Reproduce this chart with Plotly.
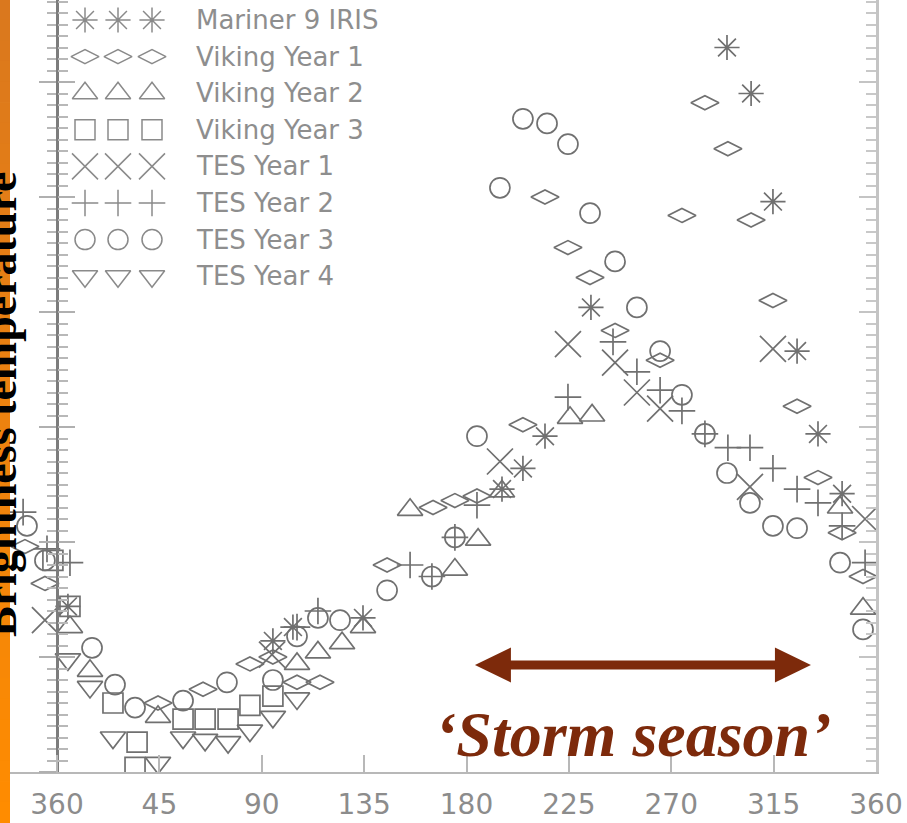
import plotly.graph_objects as go

# ---------------------------------------------------------------------------
# Seasonal brightness temperatures: solar longitude Ls (deg) and T (K)
# ---------------------------------------------------------------------------
mariner9_ls = [4.8, 94.9, 103.7, 134.5, 195.6, 204.8, 214.5, 234.7, 294.5, 305.1, 314.7, 325.3, 334.5, 345.1]
mariner9_t = [197.2, 195.7, 196.3, 196.7, 202.3, 203.2, 204.6, 210.2, 221.5, 219.5, 214.8, 208.3, 204.7, 202.1]

viking1_ls = [-14.1, -5.3, 44.4, 64.2, 84.8, 94.9, 105.5, 115.6, 145.1, 165.3, 174.9, 184.6, 204.8, 214.5,
              224.6, 234.3, 245.3, 265.1, 274.7, 284.8, 294.9, 305.1, 314.7, 325.3, 334.5, 345.1, 354.3]
viking1_t = [199.8, 198.2, 193.0, 193.6, 194.7, 195.0, 193.9, 193.9, 199.0, 201.5, 201.8, 202.0, 205.1, 215.0,
             212.8, 211.5, 209.2, 207.9, 214.2, 219.1, 217.1, 214.0, 210.5, 205.9, 202.8, 200.4, 198.5]

viking2_ls = [5.7, 14.5, 44.4, 105.5, 114.7, 125.3, 134.5, 155.2, 174.9, 185.1, 195.6, 225.5, 235.2, 344.2, 354.3]
viking2_t = [196.3, 194.4, 192.4, 194.7, 195.2, 195.6, 196.3, 201.4, 198.8, 200.1, 202.2, 205.4, 205.5, 201.5, 197.1]

viking3_ls = [-1.8, 5.7, 24.6, 35.2, 34.3, 55.4, 65.1, 75.2, 84.8, 94.9]
viking3_t = [199.2, 197.2, 193.0, 191.3, 190.2, 192.3, 192.3, 192.3, 192.9, 193.3]

tes1_ls = [-5.3, 94.5, 194.7, 224.6, 245.3, 254.9, 265.1, 304.6, 314.7, 355.2]
tes1_t = [196.6, 195.1, 203.5, 208.6, 207.8, 206.5, 205.8, 202.4, 208.4, 201.0]

tes2_ls = [-14.9, -4.4, 5.7, 105.5, 114.7, 155.2, 164.8, 174.9, 184.6, 224.6, 244.4, 254.9, 265.1, 274.7,
           284.8, 294.9, 304.6, 314.7, 325.3, 334.5, 345.1, 355.2]
tes2_t = [201.3, 199.7, 199.1, 196.3, 197.0, 199.0, 198.5, 200.2, 201.6, 206.3, 208.7, 207.4, 206.6, 205.7,
          204.7, 204.1, 204.1, 203.2, 202.3, 201.7, 200.7, 199.1]

tes3_ls = [-13.2, -5.3, 15.4, 25.5, 34.3, 55.4, 74.7, 94.9, 105.5, 114.7, 124.4, 145.1, 164.8, 174.9, 184.6,
           194.7, 204.8, 215.4, 224.6, 234.3, 245.3, 254.9, 265.1, 274.7, 284.8, 294.5, 304.6, 314.7, 325.3,
           344.2, 354.3]
tes3_t = [200.7, 199.2, 195.4, 193.8, 192.8, 193.1, 193.9, 194.0, 195.9, 196.7, 196.6, 197.9, 198.5, 200.2, 204.6,
          215.4, 218.4, 218.2, 217.3, 214.3, 212.2, 210.2, 208.3, 206.4, 204.7, 203.0, 201.7, 200.7, 200.6,
          199.1, 196.2]

tes4_ls = [4.8, 14.5, 24.6, 44.4, 55.4, 65.1, 75.2, 84.8, 94.9, 105.5]
tes4_t = [194.9, 193.7, 191.5, 190.4, 191.5, 191.4, 191.3, 191.8, 192.4, 193.2]

x_tickvals = [0, 45, 90, 135, 180, 225, 270, 315, 360]
x_ticktext = ["360", "45", "90", "135", "180", "225", "270", "315", "360"]

storm_season = (183.7, 331.4)   # Ls span of the dust-storm season arrow
storm_label_ls = 253.6          # Ls at the centre of the storm-season label

# name, Ls, T, marker symbol, marker size
series = [
    ("Mariner 9 IRIS", mariner9_ls, mariner9_t, "asterisk-open", 21),
    ("Viking Year 1", viking1_ls, viking1_t, "diamond-wide-open", 20),
    ("Viking Year 2", viking2_ls, viking2_t, "triangle-up-open", 22),
    ("Viking Year 3", viking3_ls, viking3_t, "square-open", 20),
    ("TES Year 1", tes1_ls, tes1_t, "x-thin-open", 26),
    ("TES Year 2", tes2_ls, tes2_t, "cross-thin-open", 19),
    ("TES Year 3", tes3_ls, tes3_t, "circle-open", 20),
    ("TES Year 4", tes4_ls, tes4_t, "triangle-down-open", 22),
]

# ---------------------------------------------------------------------------
# Page geometry (pixels)
# ---------------------------------------------------------------------------
W, H = 907, 823
FRAME_L, FRAME_R, FRAME_B = 10, 876, 772   # plotting frame
ORIGIN_PX = 57                             # where Ls = 0 sits
PX_PER_DEG = (FRAME_R - ORIGIN_PX) / 360.0
LS_MIN = -(ORIGIN_PX - FRAME_L) / PX_PER_DEG
T_MIN, PX_PER_K = 190.0, 23.0
T_MAX = T_MIN + FRAME_B / PX_PER_K
ORIGIN_FRAC = (ORIGIN_PX - FRAME_L) / (FRAME_R - FRAME_L)

MARK_COLOR = "#707070"
STORM_COLOR = "#7d2a0b"
AXIS_FONT = "DejaVu Sans"

fig = go.Figure()

for name, ls, t, sym, size in series:
    fig.add_trace(go.Scatter(
        x=ls, y=t, mode="markers", name=name,
        marker=dict(symbol=sym, size=size, color=MARK_COLOR,
                    line=dict(color=MARK_COLOR, width=1.7)),
        showlegend=False, hoverinfo="skip",
    ))

# Key in the upper left: three symbols per data set followed by its name
KEY_TOP, KEY_STEP = 20.0, 36.6
KEY_SYMBOL_X = [85, 118, 152]
KEY_TEXT_X = 194
for i, (name, _, _, sym, size) in enumerate(series):
    row_y = KEY_TOP + KEY_STEP * i
    fig.add_trace(go.Scatter(
        x=KEY_SYMBOL_X, y=[row_y] * len(KEY_SYMBOL_X), mode="markers",
        xaxis="x2", yaxis="y4",
        marker=dict(symbol=sym, size=size, color="#8a8a8a",
                    line=dict(color="#8a8a8a", width=1.5)),
        showlegend=False, hoverinfo="skip", cliponaxis=False,
    ))
    fig.add_annotation(
        x=KEY_TEXT_X, y=row_y, xref="x2", yref="y4", text=name,
        showarrow=False, xanchor="left", yanchor="middle",
        font=dict(family=AXIS_FONT, size=26, color="#8e8e8e"),
    )

# empty traces so the extra tick axes are instantiated
fig.add_trace(go.Scatter(x=[], y=[], yaxis="y2", showlegend=False))
fig.add_trace(go.Scatter(x=[], y=[], yaxis="y3", showlegend=False))

# ---------------------------------------------------------------------------
# Storm season arrow and label
# ---------------------------------------------------------------------------
arrow_t = T_MIN + (FRAME_B - 665) / PX_PER_K
head_len = 36 / PX_PER_DEG
head_half = 17.5 / PX_PER_K
left_tip, right_tip = storm_season
shapes = [
    dict(type="line", xref="x", yref="y", x0=left_tip + head_len * 0.9, x1=right_tip - head_len * 0.9,
         y0=arrow_t, y1=arrow_t, line=dict(color=STORM_COLOR, width=9), layer="above"),
    dict(type="path", xref="x", yref="y", layer="above", fillcolor=STORM_COLOR, line=dict(width=0),
         path=f"M {left_tip},{arrow_t} L {left_tip + head_len},{arrow_t + head_half} "
              f"L {left_tip + head_len},{arrow_t - head_half} Z"),
    dict(type="path", xref="x", yref="y", layer="above", fillcolor=STORM_COLOR, line=dict(width=0),
         path=f"M {right_tip},{arrow_t} L {right_tip - head_len},{arrow_t + head_half} "
              f"L {right_tip - head_len},{arrow_t - head_half} Z"),
]

fig.add_annotation(
    x=storm_label_ls, y=T_MIN + (FRAME_B - 734) / PX_PER_K,
    xref="x", yref="y", text="<b><i>\u2018Storm season\u2019</i></b>", showarrow=False,
    xanchor="center", yanchor="middle",
    font=dict(family="Liberation Serif", size=64, color=STORM_COLOR),
)

# Orange strip along the left edge (vertical gradient)
N_STRIP = 40
top_rgb, bot_rgb = (218, 120, 30), (255, 140, 0)
y_top, y_bot = 1.0, (FRAME_B - H) / FRAME_B
x_left = (0 - FRAME_L) / (FRAME_R - FRAME_L)
for k in range(N_STRIP):
    f = (k + 0.5) / N_STRIP
    rgb = tuple(round(a + (b - a) * f) for a, b in zip(top_rgb, bot_rgb))
    y0 = y_top + (y_bot - y_top) * k / N_STRIP
    y1 = y_top + (y_bot - y_top) * (k + 1) / N_STRIP
    shapes.append(dict(type="rect", xref="paper", yref="paper", x0=x_left, x1=0,
                       y0=y1, y1=y0 + 0.001, fillcolor="rgb(%d,%d,%d)" % rgb,
                       line=dict(width=0), layer="above"))

# Axis title, rotated, partly running off the left edge
fig.add_annotation(
    x=(0 - FRAME_L) / (FRAME_R - FRAME_L), y=(FRAME_B - 405) / FRAME_B,
    xref="paper", yref="paper", text="<b>Brightness temperature</b>",
    textangle=-90, showarrow=False, xanchor="center", yanchor="middle",
    font=dict(family="Liberation Serif", size=46, color="#000000"),
)

tick_common = dict(range=[T_MIN, T_MAX], tick0=T_MIN, dtick=5, showticklabels=False,
                   showgrid=False, zeroline=False)

fig.update_layout(
    width=W, height=H,
    margin=dict(l=FRAME_L, r=W - FRAME_R, t=0, b=H - FRAME_B, pad=0),
    paper_bgcolor="white", plot_bgcolor="white",
    showlegend=False,
    shapes=shapes,
    xaxis=dict(domain=[0, 1], range=[LS_MIN, 360], anchor="y",
               tickmode="array", tickvals=x_tickvals, ticktext=x_ticktext,
               ticks="inside", ticklen=17, tickwidth=2, tickcolor="#b8b8b8",
               showline=True, linecolor="#b8b8b8", linewidth=2,
               showgrid=False, zeroline=False, ticklabelstandoff=6,
               tickfont=dict(family=AXIS_FONT, size=28, color="#8c8c8c")),
    yaxis=dict(**tick_common, anchor="free", position=ORIGIN_FRAC,
               showline=True, linecolor="#7c7c7c", linewidth=3,
               ticks="outside", ticklen=17, tickwidth=2, tickcolor="#b0b0b0",
               minor=dict(ticks="outside", ticklen=9, dtick=0.5, tickwidth=2, tickcolor="#b8b8b8",
                          showgrid=False)),
    yaxis2=dict(**tick_common, overlaying="y", anchor="free", position=ORIGIN_FRAC, side="left",
                showline=False, ticks="inside", ticklen=17, tickwidth=2, tickcolor="#b0b0b0",
                minor=dict(ticks="inside", ticklen=10, dtick=0.5, tickwidth=2, tickcolor="#b8b8b8",
                           showgrid=False)),
    yaxis3=dict(**tick_common, overlaying="y", anchor="x", side="right",
                showline=True, linecolor="#c4c4c4", linewidth=3,
                ticks="inside", ticklen=17, tickwidth=2, tickcolor="#c4c4c4",
                minor=dict(ticks="inside", ticklen=10, dtick=0.5, tickwidth=2, tickcolor="#c8c8c8",
                           showgrid=False)),
    xaxis2=dict(domain=[0, 1], range=[FRAME_L, FRAME_R], overlaying="x", anchor="y4", visible=False),
    yaxis4=dict(range=[FRAME_B, 0], overlaying="y", anchor="x2", visible=False),
)

fig.write_html("out.html")
